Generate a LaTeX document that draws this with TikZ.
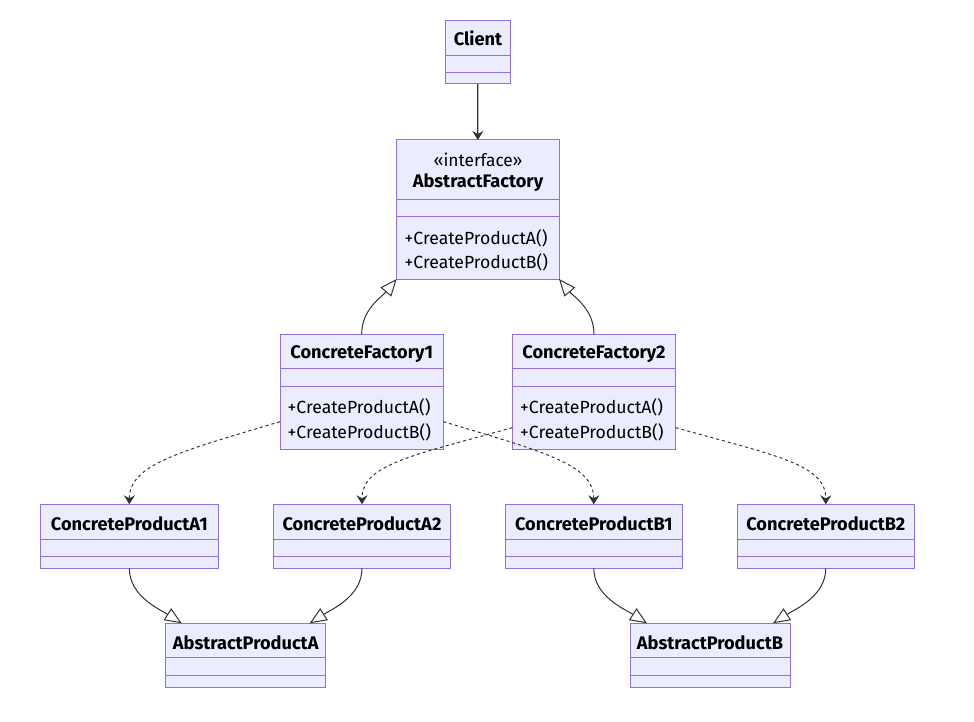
\documentclass[tikz,border=0pt]{standalone}
\usepackage{fontspec}
\setmainfont{Fira Sans}
\usetikzlibrary{arrows.meta,calc}
\definecolor{boxfill}{HTML}{ECECFF}
\definecolor{boxline}{HTML}{9370DB}
\definecolor{edgecol}{HTML}{333333}
\begin{document}
\begin{tikzpicture}[x=1pt,y=-1pt,
 cls/.style={draw=boxline, fill=boxfill, line width=1pt, inner sep=0pt, outer sep=0pt, anchor=north west, rectangle},
 sepline/.style={draw=boxline, line width=0.9pt},
 ttl/.style={font=\bfseries\fontsize{18.2}{21}\selectfont, text=black, inner sep=0pt},
 mth/.style={font=\fontsize{17.6}{21}\selectfont, text=black, inner sep=0pt, anchor=west},
 inh/.style={draw=edgecol, line width=1pt, -{Triangle[open, length=17pt, width=14pt, fill=white]}},
 assoc/.style={draw=edgecol, line width=1.2pt, -{Stealth[length=9pt, width=11pt, inset=3pt]}},
 dep/.style={draw=edgecol, line width=1pt, dash pattern=on 3pt off 3pt, -{Stealth[length=9pt, width=11pt, inset=3pt]}}]
\useasboundingbox (0,0) rectangle (974,722);
% boxes
\node[cls, minimum width=64.5pt, minimum height=63pt] (client) at (445.5,21) {};
\node[cls, minimum width=162.3pt, minimum height=139pt] (af) at (396.7,140) {};
\node[cls, minimum width=163.3pt, minimum height=114.7pt] (cf1) at (280,334.3) {};
\node[cls, minimum width=163.4pt, minimum height=114.7pt] (cf2) at (512.3,334.3) {};
\node[cls, minimum width=177.3pt, minimum height=64pt] (cpa1) at (40.7,504.3) {};
\node[cls, minimum width=177.4pt, minimum height=64pt] (cpa2) at (273.3,504.3) {};
\node[cls, minimum width=177pt, minimum height=64pt] (cpb1) at (505.3,504.3) {};
\node[cls, minimum width=177pt, minimum height=64pt] (cpb2) at (737.3,504.3) {};
\node[cls, minimum width=160pt, minimum height=64pt] (apa) at (165.7,623.3) {};
\node[cls, minimum width=160pt, minimum height=64pt] (apb) at (630,623.3) {};
% separators
\foreach \n/\ya/\yb in {client/55/72, af/199/216.7, cf1/368.7/386.7, cf2/368.7/386.7,
  cpa1/539/556.7, cpa2/539/556.7, cpb1/539/556.7, cpb2/539/556.7, apa/657.7/675, apb/657.7/675}{
  \draw[sepline] (\n.west |- 0,\ya) -- (\n.east |- 0,\ya);
  \draw[sepline] (\n.west |- 0,\yb) -- (\n.east |- 0,\yb);
}
% texts
\node[ttl] (tclient) at (478,38) {Client};
\node[font=\fontsize{17.3}{20}\selectfont, inner sep=0pt] (tster) at (478,160) {«interface»};
\node[ttl] (taf) at (478,183) {AbstractFactory};
\node[mth] (afm1) at (404.5,238) {+CreateProductA()};
\node[mth] (afm2) at (404.5,262) {+CreateProductB()};
\node[ttl] (tcf1) at (361.7,354) {ConcreteFactory1};
\node[mth] (cf1m1) at (287.5,407) {+CreateProductA()};
\node[mth] (cf1m2) at (287.5,432) {+CreateProductB()};
\node[ttl] (tcf2) at (594,354) {ConcreteFactory2};
\node[mth] (cf2m1) at (520,407) {+CreateProductA()};
\node[mth] (cf2m2) at (520,432) {+CreateProductB()};
\node[ttl] (tcpa1) at (129.3,524) {ConcreteProductA1};
\node[ttl] (tcpa2) at (362,524) {ConcreteProductA2};
\node[ttl] (tcpb1) at (593.8,524) {ConcreteProductB1};
\node[ttl] (tcpb2) at (825.8,524) {ConcreteProductB2};
\node[ttl] (tapa) at (245.7,643) {AbstractProductA};
\node[ttl] (tapb) at (710,643) {AbstractProductB};
% edges
\draw[assoc] (client.south) -- (af.north);
\draw[inh] (cf1.north) .. controls +(0,-25) and +(-15,18) .. (af.south west);
\draw[inh] (cf2.north) .. controls +(0,-25) and +(15,18) .. (af.south east);
\draw[inh] (cpa1.south) .. controls +(0,28) and +(-22,-14) .. ($(apa.north west)+(16,0)$);
\draw[inh] (cpa2.south) .. controls +(0,28) and +(22,-14) .. ($(apa.north east)+(-16,0)$);
\draw[inh] (cpb1.south) .. controls +(0,28) and +(-22,-14) .. ($(apb.north west)+(17,0)$);
\draw[inh] (cpb2.south) .. controls +(0,28) and +(22,-14) .. ($(apb.north east)+(-17,0)$);
\draw[dep] ($(cf1.west)+(0,30)$) .. controls +(-100,30) and +(0,-40) .. (cpa1.north);
\draw[dep] ($(cf1.east)+(0,30)$) .. controls +(100,30) and +(0,-40) .. (cpb1.north);
\draw[dep] ($(cf2.west)+(0,36)$) .. controls +(-100,28) and +(0,-40) .. (cpa2.north);
\draw[dep] ($(cf2.east)+(0,36)$) .. controls +(100,28) and +(0,-40) .. (cpb2.north);
\end{tikzpicture}
\end{document}
